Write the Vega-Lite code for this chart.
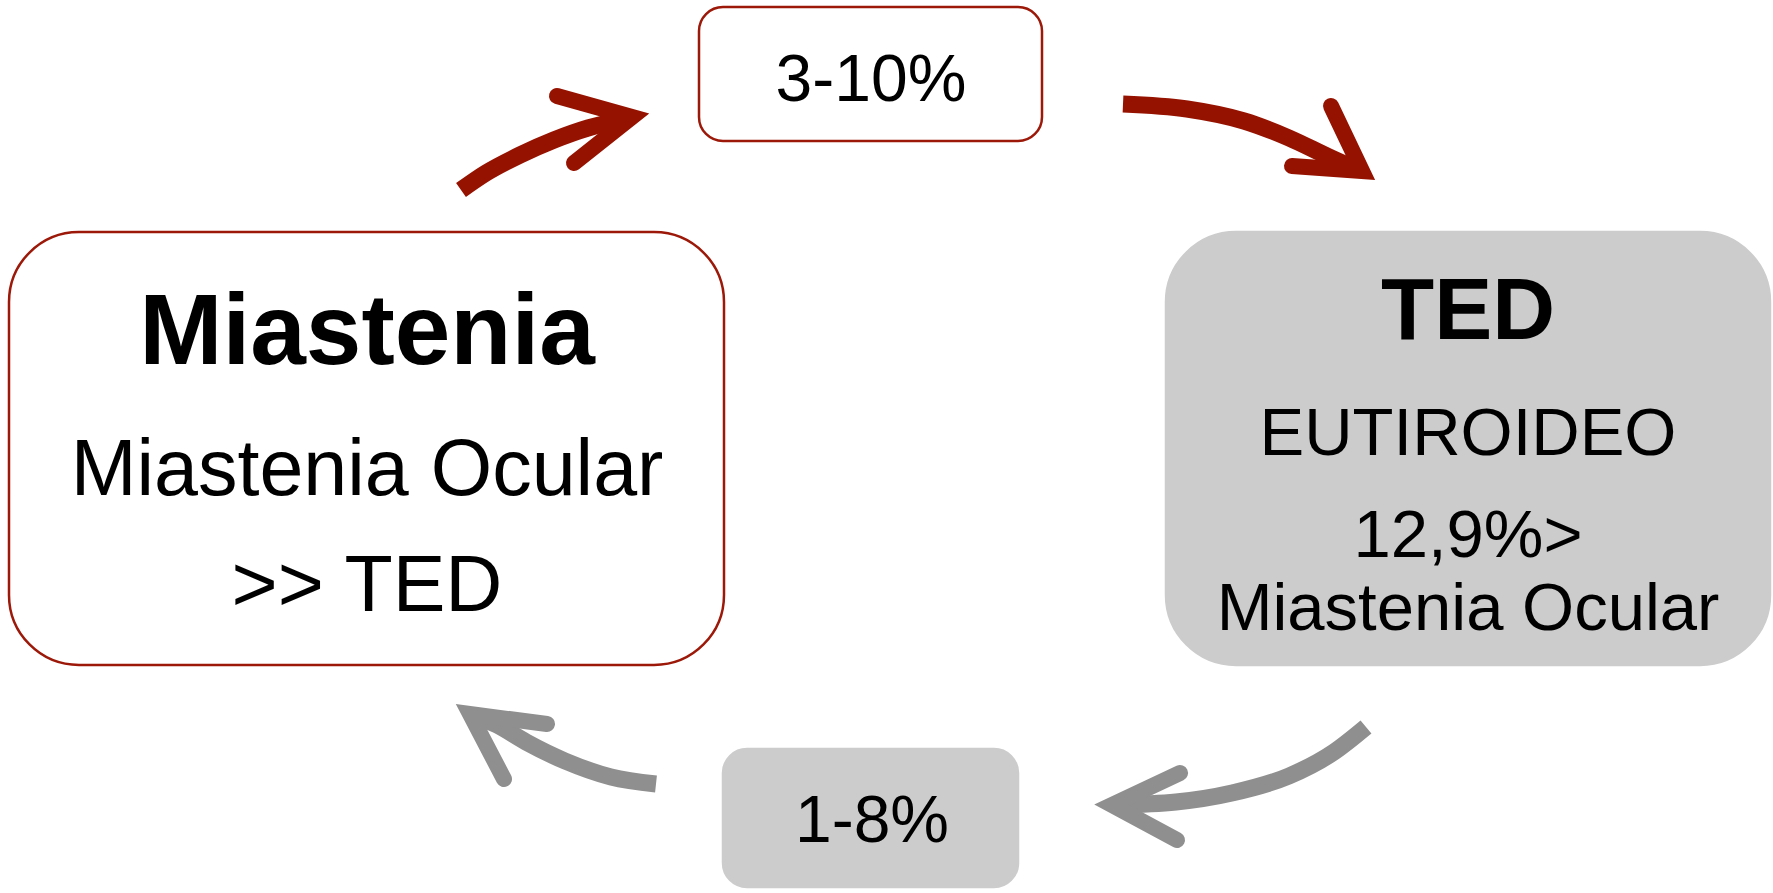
{
  "$schema": "https://vega.github.io/schema/vega-lite/v6.json",
  "width": 1773,
  "height": 893,
  "padding": 0,
  "autosize": {"type": "none"},
  "background": "white",
  "config": {"view": {"stroke": null}, "font": "Liberation Sans"},
  "datasets": {
    "boxes": [
      {"name": "Miastenia", "x1": 9, "x2": 724, "y1": 232, "y2": 665, "kind": "big", "tone": "white"},
      {"name": "TED", "x1": 1166, "x2": 1770, "y1": 232, "y2": 665, "kind": "big", "tone": "gray"},
      {"name": "3-10%", "x1": 699, "x2": 1042, "y1": 7, "y2": 141, "kind": "small", "tone": "white"},
      {"name": "1-8%", "x1": 723, "x2": 1018, "y1": 749, "y2": 887, "kind": "small", "tone": "gray"}
    ],
    "texts": [
      {"label": "Miastenia", "x": 367, "y": 364, "role": "title"},
      {"label": "Miastenia Ocular", "x": 367, "y": 495, "role": "body"},
      {"label": ">> TED", "x": 367, "y": 611, "role": "body"},
      {"label": "TED", "x": 1468, "y": 339, "role": "title2"},
      {"label": "EUTIROIDEO", "x": 1468, "y": 455, "role": "body2"},
      {"label": "12,9%>", "x": 1468, "y": 557, "role": "body2"},
      {"label": "Miastenia Ocular", "x": 1468, "y": 630, "role": "body2"},
      {"label": "3-10%", "x": 871, "y": 101, "role": "pct"},
      {"label": "1-8%", "x": 872, "y": 842, "role": "pct"}
    ],
    "arrows": [
      {"id": "tl_shaft", "tone": "red", "i": 0, "x": 461, "y": 190},
      {"id": "tl_shaft", "tone": "red", "i": 1, "x": 486, "y": 173},
      {"id": "tl_shaft", "tone": "red", "i": 2, "x": 520, "y": 155},
      {"id": "tl_shaft", "tone": "red", "i": 3, "x": 554, "y": 140},
      {"id": "tl_shaft", "tone": "red", "i": 4, "x": 588, "y": 128},
      {"id": "tl_shaft", "tone": "red", "i": 5, "x": 626, "y": 119},
      {"id": "tl_head", "tone": "red", "i": 0, "x": 557, "y": 96},
      {"id": "tl_head", "tone": "red", "i": 1, "x": 632, "y": 117},
      {"id": "tl_head", "tone": "red", "i": 2, "x": 574, "y": 163},
      {"id": "tr_shaft", "tone": "red", "i": 0, "x": 1123, "y": 104},
      {"id": "tr_shaft", "tone": "red", "i": 1, "x": 1187, "y": 109},
      {"id": "tr_shaft", "tone": "red", "i": 2, "x": 1244, "y": 121},
      {"id": "tr_shaft", "tone": "red", "i": 3, "x": 1289, "y": 138},
      {"id": "tr_shaft", "tone": "red", "i": 4, "x": 1329, "y": 157},
      {"id": "tr_shaft", "tone": "red", "i": 5, "x": 1358, "y": 170},
      {"id": "tr_head", "tone": "red", "i": 0, "x": 1331, "y": 106},
      {"id": "tr_head", "tone": "red", "i": 1, "x": 1362, "y": 171},
      {"id": "tr_head", "tone": "red", "i": 2, "x": 1292, "y": 166},
      {"id": "br_shaft", "tone": "gray", "i": 0, "x": 1366, "y": 727},
      {"id": "br_shaft", "tone": "gray", "i": 1, "x": 1334, "y": 752},
      {"id": "br_shaft", "tone": "gray", "i": 2, "x": 1289, "y": 776},
      {"id": "br_shaft", "tone": "gray", "i": 3, "x": 1232, "y": 793},
      {"id": "br_shaft", "tone": "gray", "i": 4, "x": 1176, "y": 802},
      {"id": "br_shaft", "tone": "gray", "i": 5, "x": 1116, "y": 805},
      {"id": "br_head", "tone": "gray", "i": 0, "x": 1180, "y": 773},
      {"id": "br_head", "tone": "gray", "i": 1, "x": 1112, "y": 805},
      {"id": "br_head", "tone": "gray", "i": 2, "x": 1177, "y": 840},
      {"id": "bl_shaft", "tone": "gray", "i": 0, "x": 656, "y": 784},
      {"id": "bl_shaft", "tone": "gray", "i": 1, "x": 611, "y": 777},
      {"id": "bl_shaft", "tone": "gray", "i": 2, "x": 565, "y": 761},
      {"id": "bl_shaft", "tone": "gray", "i": 3, "x": 526, "y": 742},
      {"id": "bl_shaft", "tone": "gray", "i": 4, "x": 497, "y": 725},
      {"id": "bl_shaft", "tone": "gray", "i": 5, "x": 474, "y": 715},
      {"id": "bl_head", "tone": "gray", "i": 0, "x": 547, "y": 724},
      {"id": "bl_head", "tone": "gray", "i": 1, "x": 470, "y": 714},
      {"id": "bl_head", "tone": "gray", "i": 2, "x": 504, "y": 779}
    ]
  },
  "resolve": {"scale": {"color": "independent", "fill": "independent", "stroke": "independent"}},
  "layer": [
    {
      "data": {"name": "boxes"},
      "transform": [{"filter": "datum.kind === 'big'"}],
      "mark": {"type": "rect", "cornerRadius": 70, "fill": "#000000", "opacity": 0.10, "xOffset": 2, "yOffset": 6},
      "encoding": {
        "x": {"field": "x1", "type": "quantitative", "scale": {"domain": [0, 1773], "range": [0, 1773], "nice": false, "zero": false}, "axis": null},
        "x2": {"field": "x2"},
        "y": {"field": "y1", "type": "quantitative", "scale": {"domain": [0, 893], "range": [0, 893], "nice": false, "zero": false}, "axis": null},
        "y2": {"field": "y2"}
      }
    },
    {
      "data": {"name": "boxes"},
      "transform": [{"filter": "datum.kind === 'small'"}],
      "mark": {"type": "rect", "cornerRadius": 24, "fill": "#000000", "opacity": 0.10, "xOffset": 2, "yOffset": 5},
      "encoding": {
        "x": {"field": "x1", "type": "quantitative", "scale": {"domain": [0, 1773], "range": [0, 1773], "nice": false, "zero": false}, "axis": null},
        "x2": {"field": "x2"},
        "y": {"field": "y1", "type": "quantitative", "scale": {"domain": [0, 893], "range": [0, 893], "nice": false, "zero": false}, "axis": null},
        "y2": {"field": "y2"}
      }
    },
    {
      "data": {"name": "boxes"},
      "transform": [{"filter": "datum.kind === 'big'"}],
      "mark": {"type": "rect", "cornerRadius": 70, "strokeWidth": 2.5},
      "encoding": {
        "x": {"field": "x1", "type": "quantitative", "scale": {"domain": [0, 1773], "range": [0, 1773], "nice": false, "zero": false}, "axis": null},
        "x2": {"field": "x2"},
        "y": {"field": "y1", "type": "quantitative", "scale": {"domain": [0, 893], "range": [0, 893], "nice": false, "zero": false}, "axis": null},
        "y2": {"field": "y2"},
        "fill": {"field": "tone", "type": "nominal", "scale": {"domain": ["white", "gray"], "range": ["#ffffff", "#cccccc"]}, "legend": null},
        "stroke": {"field": "tone", "type": "nominal", "scale": {"domain": ["white", "gray"], "range": ["#9c1808", "#cccccc"]}, "legend": null}
      }
    },
    {
      "data": {"name": "boxes"},
      "transform": [{"filter": "datum.kind === 'small'"}],
      "mark": {"type": "rect", "cornerRadius": 24, "strokeWidth": 2.5},
      "encoding": {
        "x": {"field": "x1", "type": "quantitative", "scale": {"domain": [0, 1773], "range": [0, 1773], "nice": false, "zero": false}, "axis": null},
        "x2": {"field": "x2"},
        "y": {"field": "y1", "type": "quantitative", "scale": {"domain": [0, 893], "range": [0, 893], "nice": false, "zero": false}, "axis": null},
        "y2": {"field": "y2"},
        "fill": {"field": "tone", "type": "nominal", "scale": {"domain": ["white", "gray"], "range": ["#ffffff", "#cccccc"]}, "legend": null},
        "stroke": {"field": "tone", "type": "nominal", "scale": {"domain": ["white", "gray"], "range": ["#9c1808", "#cccccc"]}, "legend": null}
      }
    },
    {
      "data": {"name": "arrows"},
      "transform": [{"filter": "indexof(datum.id, 'shaft') >= 0"}],
      "mark": {"type": "line", "strokeWidth": 17, "strokeCap": "butt", "interpolate": "monotone"},
      "encoding": {
        "x": {"field": "x", "type": "quantitative", "scale": {"domain": [0, 1773], "range": [0, 1773], "nice": false, "zero": false}, "axis": null},
        "y": {"field": "y", "type": "quantitative", "scale": {"domain": [0, 893], "range": [0, 893], "nice": false, "zero": false}, "axis": null},
        "order": {"field": "i", "type": "quantitative"},
        "detail": {"field": "id", "type": "nominal"},
        "color": {"field": "tone", "type": "nominal", "scale": {"domain": ["red", "gray"], "range": ["#961200", "#8f8f8f"]}, "legend": null}
      }
    },
    {
      "data": {"name": "arrows"},
      "transform": [{"filter": "indexof(datum.id, 'head') >= 0"}],
      "mark": {"type": "line", "strokeWidth": 16, "strokeCap": "round", "strokeJoin": "miter", "strokeMiterLimit": 10},
      "encoding": {
        "x": {"field": "x", "type": "quantitative", "scale": {"domain": [0, 1773], "range": [0, 1773], "nice": false, "zero": false}, "axis": null},
        "y": {"field": "y", "type": "quantitative", "scale": {"domain": [0, 893], "range": [0, 893], "nice": false, "zero": false}, "axis": null},
        "order": {"field": "i", "type": "quantitative"},
        "detail": {"field": "id", "type": "nominal"},
        "color": {"field": "tone", "type": "nominal", "scale": {"domain": ["red", "gray"], "range": ["#961200", "#8f8f8f"]}, "legend": null}
      }
    },
    {
      "data": {"name": "texts"},
      "transform": [{"filter": "datum.role === 'title'"}],
      "mark": {"type": "text", "fontSize": 100, "fontWeight": "bold", "align": "center", "baseline": "alphabetic", "color": "#000000"},
      "encoding": {
        "x": {"field": "x", "type": "quantitative", "scale": {"domain": [0, 1773], "range": [0, 1773], "nice": false, "zero": false}, "axis": null},
        "y": {"field": "y", "type": "quantitative", "scale": {"domain": [0, 893], "range": [0, 893], "nice": false, "zero": false}, "axis": null},
        "text": {"field": "label"}
      }
    },
    {
      "data": {"name": "texts"},
      "transform": [{"filter": "datum.role === 'title2'"}],
      "mark": {"type": "text", "fontSize": 87, "fontWeight": "bold", "align": "center", "baseline": "alphabetic", "color": "#000000"},
      "encoding": {
        "x": {"field": "x", "type": "quantitative", "scale": {"domain": [0, 1773], "range": [0, 1773], "nice": false, "zero": false}, "axis": null},
        "y": {"field": "y", "type": "quantitative", "scale": {"domain": [0, 893], "range": [0, 893], "nice": false, "zero": false}, "axis": null},
        "text": {"field": "label"}
      }
    },
    {
      "data": {"name": "texts"},
      "transform": [{"filter": "datum.role === 'body'"}],
      "mark": {"type": "text", "fontSize": 79, "align": "center", "baseline": "alphabetic", "color": "#000000"},
      "encoding": {
        "x": {"field": "x", "type": "quantitative", "scale": {"domain": [0, 1773], "range": [0, 1773], "nice": false, "zero": false}, "axis": null},
        "y": {"field": "y", "type": "quantitative", "scale": {"domain": [0, 893], "range": [0, 893], "nice": false, "zero": false}, "axis": null},
        "text": {"field": "label"}
      }
    },
    {
      "data": {"name": "texts"},
      "transform": [{"filter": "datum.role === 'body2'"}],
      "mark": {"type": "text", "fontSize": 67, "align": "center", "baseline": "alphabetic", "color": "#000000"},
      "encoding": {
        "x": {"field": "x", "type": "quantitative", "scale": {"domain": [0, 1773], "range": [0, 1773], "nice": false, "zero": false}, "axis": null},
        "y": {"field": "y", "type": "quantitative", "scale": {"domain": [0, 893], "range": [0, 893], "nice": false, "zero": false}, "axis": null},
        "text": {"field": "label"}
      }
    },
    {
      "data": {"name": "texts"},
      "transform": [{"filter": "datum.role === 'pct'"}],
      "mark": {"type": "text", "fontSize": 66, "align": "center", "baseline": "alphabetic", "color": "#000000"},
      "encoding": {
        "x": {"field": "x", "type": "quantitative", "scale": {"domain": [0, 1773], "range": [0, 1773], "nice": false, "zero": false}, "axis": null},
        "y": {"field": "y", "type": "quantitative", "scale": {"domain": [0, 893], "range": [0, 893], "nice": false, "zero": false}, "axis": null},
        "text": {"field": "label"}
      }
    }
  ]
}
